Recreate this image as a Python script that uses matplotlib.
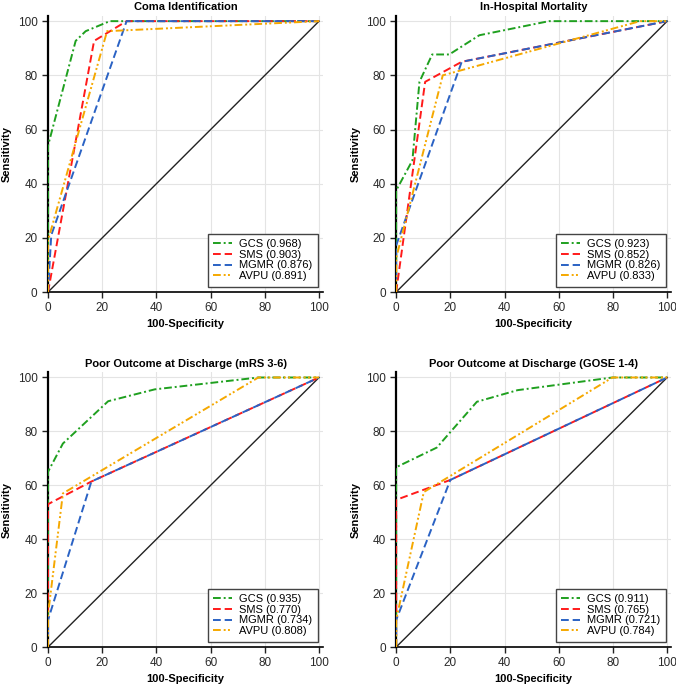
import matplotlib
matplotlib.use("Agg")
import matplotlib.pyplot as plt

plt.rcParams['font.family'] = ['Liberation Sans', 'DejaVu Sans']

# ROC points (100-specificity, sensitivity)
titles = ["Coma Identification", "In-Hospital Mortality",
          "Poor Outcome at Discharge (mRS 3-6)", "Poor Outcome at Discharge (GOSE 1-4)"]

gcs_x = [[0, 0, 10.2, 13.9, 22.8, 100],
         [0, 0, 6, 8.6, 13.3, 19.6, 30.7, 56.4, 100],
         [0, 0, 5.5, 22.2, 39.4, 77.6, 100],
         [0, 0, 15, 29.8, 44.8, 79.8, 100]]
gcs_y = [[0, 54, 92.7, 96.3, 100, 100],
         [0, 37.5, 48.6, 77.6, 87.7, 87.7, 94.8, 100, 100],
         [0, 65, 75.5, 91.2, 95.6, 100, 100],
         [0, 66.7, 74, 91, 95.3, 100, 100]]

sms_x = [[0, 17, 29, 100],
         [0, 10.7, 24.2, 100],
         [0, 0, 16, 100],
         [0, 0, 20, 100]]
sms_y = [[0, 92.7, 100, 100],
         [0, 77.6, 85, 100],
         [0, 53, 61.4, 100],
         [0, 54.6, 62, 100]]

mgmr_x = [[0, 1.2, 29, 100],
          [0, 0, 24.2, 100],
          [0, 0, 16, 100],
          [0, 0, 20, 100]]
mgmr_y = [[0, 21, 100, 100],
          [0, 17.2, 85, 100],
          [0, 10, 61.4, 100],
          [0, 10, 62, 100]]

avpu_x = [[0, 0, 21.8, 100],
          [0, 0, 17.2, 90, 100],
          [0, 0, 5.5, 77.6, 100],
          [0, 0, 10.2, 79.8, 100]]
avpu_y = [[0, 19, 96.3, 100],
          [0, 12.5, 80, 100, 100],
          [0, 12, 57, 100, 100],
          [0, 10, 57.5, 100, 100]]

aucs = [["0.968", "0.903", "0.876", "0.891"],
        ["0.923", "0.852", "0.826", "0.833"],
        ["0.935", "0.770", "0.734", "0.808"],
        ["0.911", "0.765", "0.721", "0.784"]]

names = ["GCS", "SMS", "MGMR", "AVPU"]
colors = ["#1fa01f", "#ff1a1a", "#2a62c4", "#f5a800"]
dashes = [(4, 1.5, 1, 1.5), (4, 2), (4, 2), (4, 1.5, 1, 1.2, 1, 1.5)]

fig = plt.figure(figsize=(6.76, 6.84), dpi=100)
positions = [[0.071, 0.573, 0.407, 0.404],
             [0.586, 0.573, 0.407, 0.404],
             [0.071, 0.054, 0.407, 0.402],
             [0.586, 0.054, 0.407, 0.402]]

for i in range(4):
    ax = fig.add_axes(positions[i])
    xs = [gcs_x[i], sms_x[i], mgmr_x[i], avpu_x[i]]
    ys = [gcs_y[i], sms_y[i], mgmr_y[i], avpu_y[i]]
    ax.plot([0, 100], [0, 100], color="#222222", lw=1.0, zorder=2)
    for k in range(4):
        ax.plot(xs[k], ys[k], color=colors[k], lw=1.4, dashes=dashes[k],
                label=f"{names[k]} ({aucs[i][k]})", zorder=3)
    ax.set_xlim(0, 101.5)
    ax.set_ylim(0, 102)
    ax.set_xticks([0, 20, 40, 60, 80, 100])
    ax.set_yticks([0, 20, 40, 60, 80, 100])
    ax.grid(True, color="#e4e4e4", lw=0.8)
    ax.set_axisbelow(True)
    for s in ["top", "right"]:
        ax.spines[s].set_visible(False)
    ax.spines["left"].set_linewidth(1.6)
    ax.spines["bottom"].set_linewidth(1.2)
    ax.tick_params(labelsize=8.5, length=4, width=1.0, color="#222222", labelcolor="#2a2a2a")
    ax.set_title(titles[i], fontsize=8, fontweight="bold", pad=4)
    ax.set_xlabel("100-Specificity", fontsize=8, fontweight="bold", labelpad=3)
    ax.set_ylabel("Sensitivity", fontsize=8, fontweight="bold", labelpad=4)
    leg = ax.legend(loc="lower right", fontsize=8, fancybox=False, framealpha=1,
                    edgecolor="#444444", handlelength=1.7, borderaxespad=0.5,
                    borderpad=0.5, labelspacing=0.05, handletextpad=0.6)
    leg.get_frame().set_linewidth(1.0)

fig.savefig("out.png", dpi=100)
